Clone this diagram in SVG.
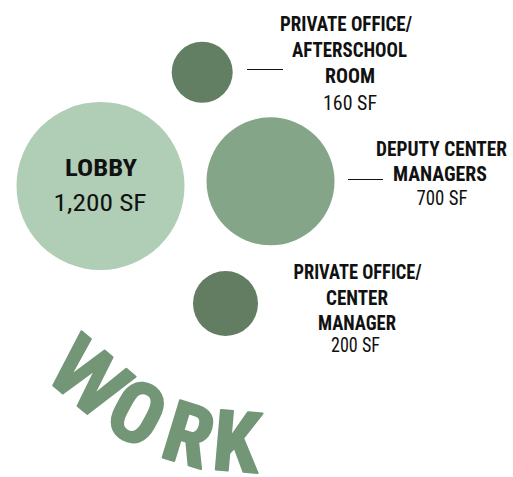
<svg xmlns="http://www.w3.org/2000/svg" width="513" height="477" viewBox="0 0 513 477">
<style>
.lb{font-family:Roboto,sans-serif;font-stretch:75%;font-weight:bold;fill:#111;text-anchor:middle;font-size:20.5px}
.lr{font-family:Roboto,sans-serif;font-stretch:75%;fill:#111;text-anchor:middle;font-size:21px}
.big{font-size:24px}
.ln{stroke:#111;stroke-width:1.2;fill:none}
</style>
<rect width="513" height="477" fill="#fff"/>
<g id="lobby">
<circle cx="100.5" cy="186" r="84" fill="#b0cdb5"/>
<text class="lb big" x="101" y="176" textLength="72" lengthAdjust="spacingAndGlyphs">LOBBY</text>
<text class="lr big" x="100" y="211" textLength="93" lengthAdjust="spacingAndGlyphs">1,200 SF</text>
</g>
<g id="deputy">
<circle cx="270.5" cy="181.3" r="64" fill="#85a588"/>
<text class="lb" x="441.5" y="156" textLength="131" lengthAdjust="spacingAndGlyphs">DEPUTY CENTER</text>
<text class="lb" x="440" y="181" textLength="94" lengthAdjust="spacingAndGlyphs">MANAGERS</text>
<text class="lr" x="442" y="205" textLength="51" lengthAdjust="spacingAndGlyphs">700 SF</text>
</g>
<g id="office-afterschool">
<circle cx="202.2" cy="72.2" r="30.5" fill="#627f63"/>
<text class="lb" x="346" y="30.5" textLength="132" lengthAdjust="spacingAndGlyphs">PRIVATE OFFICE/</text>
<text class="lb" x="349.5" y="56.5" textLength="115" lengthAdjust="spacingAndGlyphs">AFTERSCHOOL</text>
<text class="lb" x="350" y="83" textLength="50" lengthAdjust="spacingAndGlyphs">ROOM</text>
<text class="lr" x="350" y="109.5" textLength="54" lengthAdjust="spacingAndGlyphs">160 SF</text>
</g>
<g id="office-manager">
<circle cx="225.5" cy="303.5" r="32.5" fill="#627d62"/>
<text class="lb" x="357.5" y="279" textLength="128" lengthAdjust="spacingAndGlyphs">PRIVATE OFFICE/</text>
<text class="lb" x="357" y="305" textLength="62" lengthAdjust="spacingAndGlyphs">CENTER</text>
<text class="lb" x="357" y="330" textLength="78" lengthAdjust="spacingAndGlyphs">MANAGER</text>
<text class="lr" x="355.5" y="352" textLength="49" lengthAdjust="spacingAndGlyphs">200 SF</text>
</g>
<g id="connectors">
<line class="ln" x1="247" y1="69.5" x2="283" y2="69.5"/>
<line class="ln" x1="348" y1="179.5" x2="383" y2="179.5"/>
</g>
<g id="title">
<text x="42 101 158 211" y="376 427 456 469" rotate="40 28 17 5" font-family="Roboto,sans-serif" font-stretch="75%" font-weight="bold" font-size="84" fill="#739677" stroke="#739677" stroke-width="2" stroke-linejoin="round"><tspan font-stretch="100%">W</tspan>ORK</text>
</g>
</svg>
